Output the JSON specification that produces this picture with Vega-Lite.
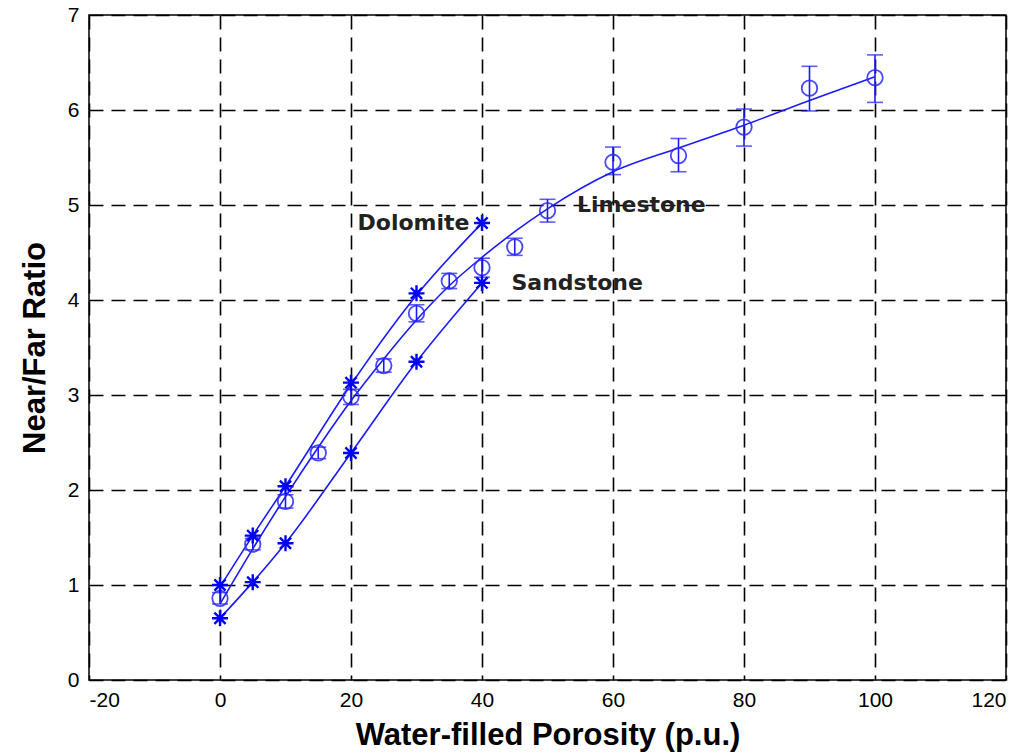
{
  "$schema": "https://vega.github.io/schema/vega-lite/v6.json",
  "autosize": {"type": "none"},
  "width": 917,
  "height": 665,
  "padding": {"left": 89, "top": 15, "right": 27, "bottom": 72},
  "background": "white",
  "config": {
    "view": {"stroke": "black", "strokeWidth": 1.5},
    "axis": {
      "grid": true, "gridColor": "black", "gridDash": [14, 8], "gridWidth": 1.6, "gridOpacity": 1,
      "domain": false, "ticks": false,
      "labelFont": "'Liberation Sans', sans-serif", "labelFontSize": 21, "labelColor": "black",
      "titleFont": "'Liberation Sans', sans-serif", "titleFontSize": 31, "titleFontWeight": "bold", "titleColor": "black"
    }
  },
  "datasets": {
    "pts": [
      {"series": "Limestone", "x": 0, "y": 0.86, "lo": 0.80, "hi": 0.92},
      {"series": "Limestone", "x": 5, "y": 1.43, "lo": 1.37, "hi": 1.49},
      {"series": "Limestone", "x": 10, "y": 1.88, "lo": 1.81, "hi": 1.95},
      {"series": "Limestone", "x": 15, "y": 2.39, "lo": 2.33, "hi": 2.45},
      {"series": "Limestone", "x": 20, "y": 2.98, "lo": 2.90, "hi": 3.06},
      {"series": "Limestone", "x": 25, "y": 3.31, "lo": 3.24, "hi": 3.38},
      {"series": "Limestone", "x": 30, "y": 3.86, "lo": 3.77, "hi": 3.95},
      {"series": "Limestone", "x": 35, "y": 4.20, "lo": 4.12, "hi": 4.28},
      {"series": "Limestone", "x": 40, "y": 4.34, "lo": 4.24, "hi": 4.44},
      {"series": "Limestone", "x": 45, "y": 4.56, "lo": 4.47, "hi": 4.65},
      {"series": "Limestone", "x": 50, "y": 4.94, "lo": 4.82, "hi": 5.06},
      {"series": "Limestone", "x": 60, "y": 5.45, "lo": 5.32, "hi": 5.61},
      {"series": "Limestone", "x": 70, "y": 5.52, "lo": 5.35, "hi": 5.70},
      {"series": "Limestone", "x": 80, "y": 5.82, "lo": 5.62, "hi": 6.01},
      {"series": "Limestone", "x": 90, "y": 6.23, "lo": 5.99, "hi": 6.46},
      {"series": "Limestone", "x": 100, "y": 6.34, "lo": 6.08, "hi": 6.58},
      {"series": "Dolomite", "x": 0, "y": 1.00},
      {"series": "Dolomite", "x": 5, "y": 1.52},
      {"series": "Dolomite", "x": 10, "y": 2.04},
      {"series": "Dolomite", "x": 20, "y": 3.13},
      {"series": "Dolomite", "x": 30, "y": 4.07},
      {"series": "Dolomite", "x": 40, "y": 4.81},
      {"series": "Sandstone", "x": 0, "y": 0.65},
      {"series": "Sandstone", "x": 5, "y": 1.03},
      {"series": "Sandstone", "x": 10, "y": 1.44},
      {"series": "Sandstone", "x": 20, "y": 2.39},
      {"series": "Sandstone", "x": 30, "y": 3.35},
      {"series": "Sandstone", "x": 40, "y": 4.18}
    ],
    "fit": [
      {"series": "Dolomite", "x": 0, "y": 0.98},
      {"series": "Dolomite", "x": 5, "y": 1.52},
      {"series": "Dolomite", "x": 10, "y": 2.04},
      {"series": "Dolomite", "x": 20, "y": 3.11},
      {"series": "Dolomite", "x": 30, "y": 4.05},
      {"series": "Dolomite", "x": 40, "y": 4.81},
      {"series": "Sandstone", "x": 0, "y": 0.65},
      {"series": "Sandstone", "x": 5, "y": 1.03},
      {"series": "Sandstone", "x": 10, "y": 1.44},
      {"series": "Sandstone", "x": 20, "y": 2.39},
      {"series": "Sandstone", "x": 30, "y": 3.35},
      {"series": "Sandstone", "x": 40, "y": 4.18},
      {"series": "Limestone", "x": 0, "y": 0.80},
      {"series": "Limestone", "x": 5, "y": 1.38},
      {"series": "Limestone", "x": 10, "y": 1.93},
      {"series": "Limestone", "x": 15, "y": 2.45},
      {"series": "Limestone", "x": 20, "y": 2.94},
      {"series": "Limestone", "x": 25, "y": 3.38},
      {"series": "Limestone", "x": 30, "y": 3.79},
      {"series": "Limestone", "x": 35, "y": 4.15},
      {"series": "Limestone", "x": 40, "y": 4.45},
      {"series": "Limestone", "x": 45, "y": 4.72},
      {"series": "Limestone", "x": 50, "y": 4.96},
      {"series": "Limestone", "x": 60, "y": 5.35},
      {"series": "Limestone", "x": 70, "y": 5.60},
      {"series": "Limestone", "x": 80, "y": 5.84},
      {"series": "Limestone", "x": 90, "y": 6.10},
      {"series": "Limestone", "x": 100, "y": 6.35}
    ],
    "labels": [
      {"label": "Dolomite", "x": 21, "y": 4.81},
      {"label": "Limestone", "x": 54.5, "y": 5.0},
      {"label": "Sandstone", "x": 44.5, "y": 4.18}
    ]
  },
  "layer": [
    {
      "data": {"name": "fit"},
      "mark": {"type": "line", "color": "#1a1aff", "strokeWidth": 1.6, "interpolate": "monotone"},
      "encoding": {
        "x": {"field": "x", "type": "quantitative", "scale": {"domain": [-20, 120], "nice": false},
              "axis": {"values": [-20, 0, 20, 40, 60, 80, 100, 120], "labelExpr": "'' + datum.value", "title": "Water-filled Porosity (p.u.)", "labelPadding": 9, "titlePadding": 10}},
        "y": {"field": "y", "type": "quantitative", "scale": {"domain": [0, 7], "nice": false},
              "axis": {"values": [0, 1, 2, 3, 4, 5, 6, 7], "labelExpr": "'' + datum.value", "title": "Near/Far Ratio", "labelPadding": 10, "titlePadding": 16}},
        "detail": {"field": "series"}
      }
    },
    {
      "data": {"name": "pts"},
      "transform": [{"filter": "datum.series === 'Limestone'"}],
      "mark": {"type": "rule", "color": "#1a1aff", "strokeWidth": 1.6},
      "encoding": {
        "x": {"field": "x", "type": "quantitative"},
        "y": {"field": "lo", "type": "quantitative"},
        "y2": {"field": "hi"}
      }
    },
    {
      "data": {"name": "pts"},
      "transform": [{"filter": "datum.series === 'Limestone'"}],
      "mark": {"type": "tick", "orient": "horizontal", "color": "#1a1aff", "size": 16, "thickness": 1.6},
      "encoding": {
        "x": {"field": "x", "type": "quantitative"},
        "y": {"field": "lo", "type": "quantitative"}
      }
    },
    {
      "data": {"name": "pts"},
      "transform": [{"filter": "datum.series === 'Limestone'"}],
      "mark": {"type": "tick", "orient": "horizontal", "color": "#1a1aff", "size": 16, "thickness": 1.6},
      "encoding": {
        "x": {"field": "x", "type": "quantitative"},
        "y": {"field": "hi", "type": "quantitative"}
      }
    },
    {
      "data": {"name": "pts"},
      "transform": [{"filter": "datum.series === 'Limestone'"}],
      "mark": {"type": "point", "shape": "circle", "filled": false, "color": "#2a2aff", "size": 240, "strokeWidth": 1.8, "opacity": 0.85},
      "encoding": {
        "x": {"field": "x", "type": "quantitative"},
        "y": {"field": "y", "type": "quantitative"}
      }
    },
    {
      "data": {"name": "pts"},
      "transform": [{"filter": "datum.series !== 'Limestone'"}],
      "mark": {"type": "point", "shape": "M-1,0L1,0M0,-1L0,1M-0.7,-0.7L0.7,0.7M-0.7,0.7L0.7,-0.7", "filled": false, "color": "#0000ff", "size": 256, "strokeWidth": 2.4, "opacity": 1},
      "encoding": {
        "x": {"field": "x", "type": "quantitative"},
        "y": {"field": "y", "type": "quantitative"}
      }
    },
    {
      "data": {"name": "labels"},
      "mark": {"type": "text", "align": "left", "baseline": "middle", "font": "'DejaVu Sans', sans-serif", "fontSize": 22, "fontWeight": "bold", "color": "#222222"},
      "encoding": {
        "x": {"field": "x", "type": "quantitative"},
        "y": {"field": "y", "type": "quantitative"},
        "text": {"field": "label"}
      }
    }
  ]
}
